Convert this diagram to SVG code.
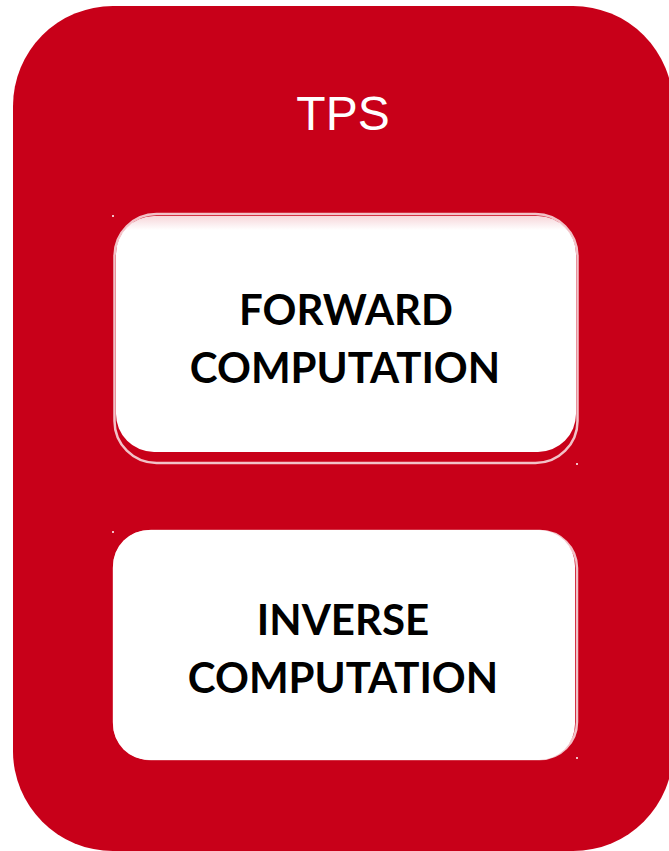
<svg xmlns="http://www.w3.org/2000/svg" width="669" height="851" viewBox="0 0 669 851">
  <style>
    .outer { fill: #C80019; }
    .box { fill: #FFFFFF; }
    .rim { fill: none; stroke: #F2C2C8; stroke-width: 2.5; }
    .label { font-family: Lato, "Open Sans", "Liberation Sans", sans-serif; font-weight: 700; font-size: 42px; fill: #000000; text-anchor: middle; }
    .title { font-family: "Liberation Sans", Arial, sans-serif; font-size: 48px; fill: #FFFFFF; text-anchor: middle; }
    .dot { fill: #FFFFFF; }
  </style>
  <defs>
    <linearGradient id="topGlow" x1="0" y1="0" x2="0" y2="1">
      <stop offset="0" stop-color="#F7D6DA"/>
      <stop offset="0.06" stop-color="#FFFFFF"/>
      <stop offset="1" stop-color="#FFFFFF"/>
    </linearGradient>
  </defs>

  <g id="tps">
    <rect class="outer" x="13" y="6" width="660" height="845" rx="100" ry="100"/>
    <text class="title" x="343" y="130">TPS</text>
  </g>

  <g id="forward-computation">
    <rect class="rim" x="114.5" y="214" width="463" height="249" rx="42" ry="42"/>
    <rect class="box" x="116" y="216" width="460" height="236" rx="38" ry="38" fill="url(#topGlow)" style="fill:url(#topGlow)"/>
    <text class="label" x="346" y="325">FORWARD</text>
    <text class="label" x="345" y="383">COMPUTATION</text>
    <circle class="dot" cx="113" cy="216" r="1"/>
    <circle class="dot" cx="577" cy="464" r="1"/>
  </g>

  <g id="inverse-computation">
    <rect class="rim" x="114" y="531" width="463" height="228" rx="37" ry="37"/>
    <rect class="box" x="113" y="530" width="462" height="230" rx="36" ry="36"/>
    <text class="label" x="343" y="635">INVERSE</text>
    <text class="label" x="343" y="693">COMPUTATION</text>
    <circle class="dot" cx="113" cy="532" r="1"/>
    <circle class="dot" cx="577" cy="758" r="1"/>
  </g>

  <g id="connectors"></g>
</svg>
